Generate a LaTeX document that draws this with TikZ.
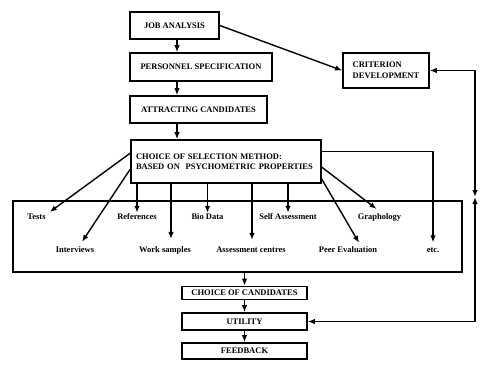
\documentclass[tikz,border=0pt]{standalone}
\usepackage{fontspec}
\setmainfont{Liberation Serif}
\usetikzlibrary{arrows.meta,calc}
\begin{document}
\begin{tikzpicture}[x=1pt,y=-1pt,
  >={Latex[length=7pt,width=5.5pt]},
  box/.style={draw,line width=1.6pt,inner sep=0pt,font=\bfseries\fontsize{8.5}{10.5}\selectfont},
  lbl/.style={inner sep=1pt,font=\bfseries\fontsize{8.5}{10}\selectfont},
  arr/.style={line width=1.4pt,->},
  conn/.style={line width=1.4pt,<->}]
\useasboundingbox (0,0) rectangle (489,369);
% main column boxes
\node[box,minimum width=89pt,minimum height=27pt] (job) at (174.5,25.5) {JOB ANALYSIS};
\node[box,minimum width=142pt,minimum height=28pt] (pers) at (201,67) {PERSONNEL SPECIFICATION};
\node[box,minimum width=137pt,minimum height=27pt] (attr) at (198.5,109.5) {ATTRACTING CANDIDATES};
\node[box,minimum width=86pt,minimum height=35pt,align=left] (crit) at (386,70.5) {CRITERION\\DEVELOPMENT};
\node[box,minimum width=190pt,minimum height=43pt,align=left,text width=180pt] (choice) at (226,161.5)
  {CHOICE OF SELECTION METHOD:\\BASED ON\ \ PSYCHOMETRIC PROPERTIES};
\node[box,minimum width=449pt,minimum height=71pt] (big) at (237.5,236.5) {};
\node[box,minimum width=125pt,minimum height=13pt] (cand) at (244.5,293) {CHOICE OF CANDIDATES};
\node[box,minimum width=125pt,minimum height=17pt] (util) at (244.5,321.5) {UTILITY};
\node[box,minimum width=125pt,minimum height=16pt] (feed) at (244.5,351) {FEEDBACK};
% method labels
\node[lbl] (tests) at (36.5,217) {Tests};
\node[lbl] (refs) at (137,217) {References};
\node[lbl] (bio) at (207.5,217) {Bio Data};
\node[lbl] (self) at (288,217) {Self Assessment};
\node[lbl] (graph) at (379.5,217) {Graphology};
\node[lbl] (inter) at (75,250) {Interviews};
\node[lbl] (work) at (165,250) {Work samples};
\node[lbl] (assess) at (251,250) {Assessment centres};
\node[lbl] (peer) at (348,250) {Peer Evaluation};
\node[lbl] (etc) at (433,250) {etc.};
% column coordinate
\coordinate (colx) at (177,0);
\draw[arr] (job.south -| colx) -- (pers.north -| colx);
\draw[arr] (pers.south -| colx) -- (attr.north -| colx);
\draw[arr] (attr.south -| colx) -- (choice.north -| colx);
\draw[arr] (job.east) -- (crit.west);
% choice to methods
\draw[arr] ($(choice.north west)+(0,14)$) -- ($(tests.north east)+(3,-1)$);
\draw[arr] ($(choice.north west)+(0,30)$) -- ($(inter.north)+(7,-4)$);
\draw[arr] (choice.south -| refs.north) -- (refs.north);
\coordinate (wk) at ($(work.north)+(6,-6)$);
\draw[arr] (choice.south -| wk) -- (wk);
\draw[arr] (choice.south -| bio.north) -- (bio.north);
\coordinate (as) at ($(assess.north)+(1,-6)$);
\draw[arr] (choice.south -| as) -- (as);
\draw[arr] (choice.south -| self.north) -- (self.north);
\draw[arr] ($(choice.north east)+(0,40)$) -- ($(peer.north)+(11,-3)$);
\draw[arr] ($(choice.north east)+(0,28)$) -- ($(graph.north)+(-3,-3)$);
\draw[arr] ($(choice.north east)+(0,12)$) -| ($(etc.north)+(0,-4)$);
% lower column
\draw[arr] (big.south -| cand.north) -- (cand.north);
\draw[arr] (cand.south) -- (util.north);
\draw[arr] (util.south) -- (feed.north);
% feedback loop
\coordinate (m) at (475,197);
\draw[conn] (crit.east) -| (m);
\draw[conn] (util.east) -| (m);
\end{tikzpicture}
\end{document}
